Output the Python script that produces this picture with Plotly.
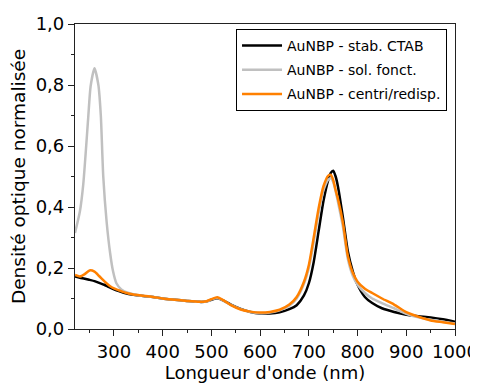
import plotly.graph_objects as go

# Black: AuNBP - stab. CTAB
wl_ctab = [220, 230, 240, 250, 260, 270, 280, 290, 300, 310, 320, 340, 360, 380, 400, 425, 450, 475, 490, 500, 512, 525, 540, 560, 580, 600, 620, 640, 660, 675, 690, 700, 710, 720, 730, 740, 745, 750, 755, 760, 770, 780, 790, 800, 815, 830, 850, 875, 900, 925, 950, 975, 1000]
od_ctab = [0.172, 0.168, 0.165, 0.161, 0.157, 0.151, 0.145, 0.137, 0.130, 0.124, 0.119, 0.112, 0.108, 0.105, 0.100, 0.096, 0.092, 0.089, 0.090, 0.096, 0.101, 0.093, 0.080, 0.066, 0.056, 0.051, 0.051, 0.055, 0.065, 0.078, 0.110, 0.150, 0.220, 0.320, 0.420, 0.490, 0.512, 0.519, 0.500, 0.465, 0.365, 0.255, 0.190, 0.145, 0.105, 0.085, 0.068, 0.056, 0.047, 0.042, 0.038, 0.032, 0.024]

# Grey: AuNBP - sol. fonct.
wl_fonct = [220, 230, 237, 247, 252, 260, 268, 273, 278, 285, 292, 298, 305, 315, 330, 345, 360, 380, 400, 425, 450, 475, 490, 500, 512, 525, 540, 560, 580, 600, 620, 640, 660, 675, 690, 700, 710, 720, 730, 740, 745, 750, 755, 760, 770, 780, 790, 800, 815, 830, 850, 875, 900, 925, 950, 975, 1000]
od_fonct = [0.315, 0.385, 0.475, 0.690, 0.795, 0.855, 0.800, 0.700, 0.500, 0.350, 0.250, 0.190, 0.150, 0.130, 0.118, 0.112, 0.108, 0.105, 0.100, 0.096, 0.092, 0.089, 0.090, 0.097, 0.102, 0.093, 0.079, 0.065, 0.056, 0.052, 0.054, 0.061, 0.076, 0.100, 0.148, 0.200, 0.285, 0.380, 0.455, 0.490, 0.494, 0.482, 0.452, 0.415, 0.335, 0.230, 0.175, 0.145, 0.118, 0.100, 0.085, 0.068, 0.050, 0.038, 0.030, 0.024, 0.018]

# Orange: AuNBP - centri/redisp.
wl_redisp = [220, 230, 240, 250, 260, 270, 280, 290, 300, 310, 320, 340, 360, 380, 400, 425, 450, 475, 490, 500, 512, 525, 540, 560, 580, 600, 620, 640, 660, 675, 690, 700, 710, 720, 730, 740, 745, 750, 755, 760, 770, 780, 790, 800, 815, 830, 850, 875, 900, 925, 950, 975, 1000]
od_redisp = [0.177, 0.172, 0.180, 0.192, 0.188, 0.173, 0.157, 0.143, 0.133, 0.127, 0.121, 0.113, 0.109, 0.105, 0.100, 0.096, 0.092, 0.089, 0.091, 0.098, 0.104, 0.094, 0.078, 0.064, 0.057, 0.054, 0.056, 0.063, 0.080, 0.105, 0.155, 0.210, 0.300, 0.395, 0.468, 0.503, 0.505, 0.488, 0.455, 0.425, 0.348, 0.240, 0.185, 0.155, 0.132, 0.118, 0.100, 0.080, 0.055, 0.040, 0.028, 0.022, 0.016]

series_names = ["AuNBP - stab. CTAB", "AuNBP - sol. fonct.", "AuNBP - centri/redisp."]
x_ticks = [300, 400, 500, 600, 700, 800, 900, 1000]
y_ticks = [0.0, 0.2, 0.4, 0.6, 0.8, 1.0]

FONT = "DejaVu Sans"

fig = go.Figure()
for i, (wl, od, name, color) in enumerate([
    (wl_ctab, od_ctab, series_names[0], "#000000"),
    (wl_fonct, od_fonct, series_names[1], "#c0c0c0"),
    (wl_redisp, od_redisp, series_names[2], "#ff8000"),
]):
    fig.add_trace(go.Scatter(x=wl, y=od, mode="lines", name=name, legendgroup=f"g{i}",
                             line=dict(color=color, width=2.5, shape="spline", smoothing=0.6)))

axis_common = dict(
    showgrid=False, zeroline=False, showline=True, linecolor="#222", linewidth=1.2,
    mirror=True, ticks="outside", ticklen=6, tickwidth=1.2, tickcolor="#222",
    tickfont=dict(family=FONT, size=18, color="black"), automargin=False,
)

fig.update_xaxes(range=[220, 1000], tickvals=x_ticks,
                 minor=dict(ticks="outside", ticklen=3, tickcolor="#222", dtick=50, tick0=0),
                 title=dict(text="Longueur d'onde (nm)", font=dict(family=FONT, size=18, color="black"), standoff=0),
                 **axis_common)
fig.update_yaxes(range=[0, 1.0], tickvals=y_ticks, tickformat=".1f",
                 minor=dict(ticks="outside", ticklen=3, tickcolor="#222", dtick=0.1, tick0=0),
                 title=dict(text="Densité optique normalisée", font=dict(family=FONT, size=18.5, color="black"), standoff=6),
                 **axis_common)

# page body has an 8px default margin: size the figure so the plot area lands where the reference has it
fig.update_layout(
    width=470, height=377,
    margin=dict(l=67, r=23, t=16, b=56),
    paper_bgcolor="white", plot_bgcolor="white",
    separators=",.",
    showlegend=True,
    legend=dict(x=0.979, y=0.984, xanchor="right", yanchor="top",
                bordercolor="black", borderwidth=1, bgcolor="white",
                font=dict(family=FONT, size=14, color="black"),
                tracegroupgap=3, itemwidth=40),
)

fig.write_html("out.html")
